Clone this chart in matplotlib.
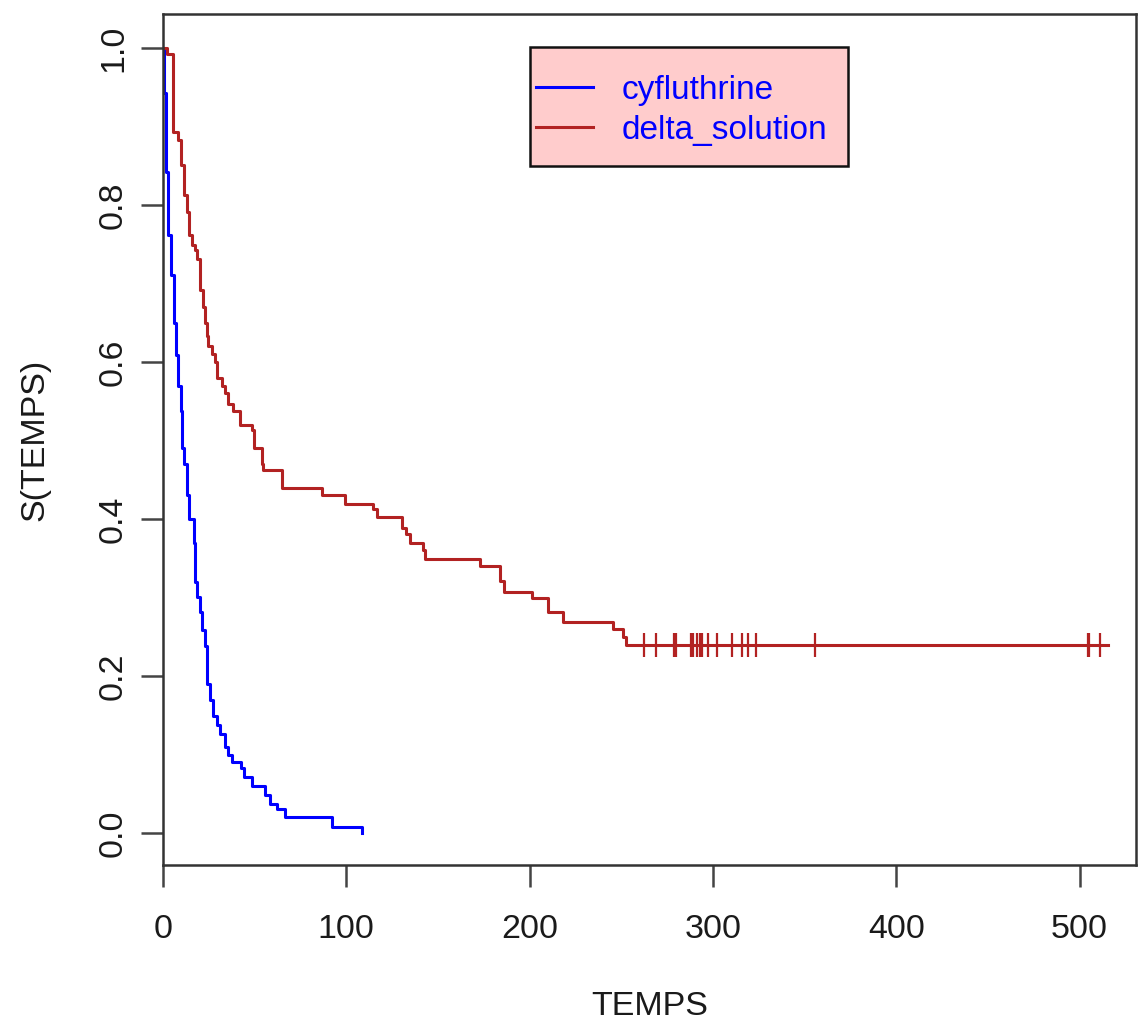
import matplotlib
matplotlib.use("Agg")
import matplotlib.pyplot as plt
from matplotlib.patches import Rectangle
from matplotlib.lines import Line2D

plt.rcParams['font.family'] = ['Liberation Sans', 'DejaVu Sans']

# courbe de survie - cyfluthrine (temps, S(t))
cyf_t = [0, 0.5, 1.5, 2.9, 4.4, 6.0, 6.9, 8.0, 9.8, 10.5, 11.7, 12.9, 14.4, 17.1,
         17.5, 18.8, 20.2, 21.5, 23.0, 23.9, 25.7, 27.5, 29.3, 31.1, 33.9, 35.7,
         37.9, 42.6, 44.4, 48.5, 55.7, 58.5, 62.1, 66.7, 92.2, 108.6]
cyf_s = [1.0, 0.943, 0.842, 0.762, 0.711, 0.65, 0.609, 0.57, 0.538, 0.49, 0.47,
         0.43, 0.40, 0.37, 0.32, 0.30, 0.281, 0.259, 0.238, 0.19, 0.169, 0.149,
         0.138, 0.126, 0.11, 0.099, 0.09, 0.083, 0.071, 0.06, 0.049, 0.037,
         0.031, 0.02, 0.008, 0.0]

# courbe de survie - delta_solution
delta_t = [0, 2, 5.6, 8.0, 9.8, 11.7, 12.9, 14.4, 15.7, 17.5, 18.4, 20.2, 22, 23,
           23.8, 24.8, 26.6, 28.4, 29.5, 32, 33.9, 35.7, 38.4, 42, 48.5, 49.7,
           53.9, 54.5, 64.9, 86.7, 99.5, 114.5, 117, 130.4, 132.8, 135, 142,
           143.2, 172.7, 183.6, 185.8, 201.5, 209.8, 218, 245.7, 250.8, 252.5, 515.5]
delta_s = [1.0, 0.992, 0.893, 0.883, 0.851, 0.813, 0.791, 0.762, 0.749, 0.743,
           0.731, 0.692, 0.67, 0.65, 0.633, 0.62, 0.61, 0.60, 0.58, 0.57, 0.56,
           0.547, 0.538, 0.52, 0.513, 0.49, 0.47, 0.462, 0.44, 0.431, 0.419,
           0.413, 0.403, 0.388, 0.381, 0.369, 0.36, 0.349, 0.34, 0.321, 0.307,
           0.299, 0.282, 0.269, 0.26, 0.25, 0.24, 0.24]

# observations censurees (delta_solution)
cens_t = [262.2, 268.7, 278.6, 280.1, 288.2, 289.1, 291.5, 292.8, 294.2, 297.5,
          302.1, 310.5, 315.7, 319.4, 323.5, 355.8, 504.4, 505.3, 510.9]
cens_s = [0.24] * len(cens_t)

labels = ['cyfluthrine', 'delta_solution']
colors = ['#0000FF', '#B22222']
txt = '#1a1a1a'

fig = plt.figure(figsize=(11.38, 10.26), dpi=100)
ax = fig.add_axes([163 / 1138, 161 / 1026, 973 / 1138, 851 / 1026])

ax.step(cyf_t, cyf_s, where='post', color=colors[0], lw=2.2)
ax.step(delta_t, delta_s, where='post', color=colors[1], lw=2.2)
ax.plot(cens_t, cens_s, ls='none', marker='|', ms=17, mew=1.6, color=colors[1])

ax.set_xlim(0, 530.8)
ax.set_ylim(-0.0408, 1.0433)
ax.set_xticks([0, 100, 200, 300, 400, 500])
ax.set_yticks([0.0, 0.2, 0.4, 0.6, 0.8, 1.0])
ax.set_yticklabels(['0.0', '0.2', '0.4', '0.6', '0.8', '1.0'],
                   rotation=90, va='center')

for sp in ax.spines.values():
    sp.set_color('#333333')
    sp.set_linewidth(1.8)
ax.tick_params(axis='both', length=15.5, width=1.8, color='#444444',
               labelsize=24.5, labelcolor=txt)
ax.tick_params(axis='x', pad=20)
ax.tick_params(axis='y', pad=9)

ax.set_xlabel('TEMPS', fontsize=24.5, color=txt)
ax.xaxis.set_label_coords(0.5, -0.1657)
ax.xaxis.label.set_va('center')
ax.set_ylabel('S(TEMPS)', fontsize=24.5, color=txt)
ax.yaxis.set_label_coords(-0.1316, 0.5)
ax.yaxis.label.set_va('center')

# legende (style R)
ax.add_patch(Rectangle((0.3772, 0.8214), 0.3268, 0.1398, transform=ax.transAxes,
                       facecolor='#FFCCCC', edgecolor='#111111', lw=1.8, zorder=5))
row_y = [0.9139, 0.8672]
base_y = [0.9000, 0.8530]
for i in range(2):
    ax.add_line(Line2D([0.3834, 0.4419], [row_y[i], row_y[i]], transform=ax.transAxes,
                       color=colors[i], lw=2.2, zorder=6))
    ax.text(0.4714, base_y[i], labels[i], transform=ax.transAxes, color='#0000FF',
            fontsize=24, va='baseline', ha='left', zorder=6)

fig.savefig('out.png', dpi=100)
